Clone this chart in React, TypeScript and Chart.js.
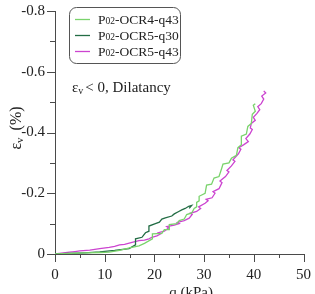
import React, { useEffect, useRef } from "react";
import { Chart, registerables } from "chart.js";

Chart.register(...registerables);

// Deviatoric stress q (kPa) and volumetric strain εv (%) for each test
const qOcr4q43 = [0, 3, 6, 9, 10.9, 13, 15, 16.9, 18, 19.6, 19.6, 21.5, 22, 23, 23, 24.5, 25, 26, 26.5, 27.5, 28, 28.5, 28.5, 29, 29, 30.2, 30.5, 31.5, 32, 33, 33.5, 33.8, 35, 35.5, 36.5, 36.8, 37.5, 37.5, 38.5, 38.8, 39.5, 39.7, 40.3, 39.9, 40.3];
const evOcr4q43 = [0, -0.002, -0.004, -0.005, -0.006, -0.012, -0.02, -0.027, -0.035, -0.05, -0.066, -0.068, -0.08, -0.08, -0.097, -0.1, -0.11, -0.115, -0.13, -0.135, -0.15, -0.155, -0.17, -0.175, -0.19, -0.2, -0.227, -0.23, -0.25, -0.255, -0.28, -0.296, -0.3, -0.315, -0.325, -0.35, -0.36, -0.388, -0.395, -0.42, -0.43, -0.46, -0.47, -0.49, -0.495];

const qOcr5q30 = [0, 3, 6, 9, 12, 14.9, 16.2, 16.2, 17.5, 18.2, 18.9, 18.9, 20.2, 21, 21.5, 22.2, 23.5, 24, 24.9, 25.5, 26.2, 26.9, 27.5, 27];
const evOcr5q30 = [0, -0.002, -0.004, -0.007, -0.012, -0.018, -0.03, -0.05, -0.055, -0.07, -0.075, -0.092, -0.1, -0.105, -0.115, -0.119, -0.125, -0.132, -0.14, -0.145, -0.15, -0.157, -0.16, -0.15];

const qOcr5q43 = [0, 2.9, 4, 5, 7, 9, 10.9, 12, 13, 14, 15.5, 16.9, 18, 18.9, 19.5, 20.5, 21.2, 20.8, 22, 22.9, 22.5, 24, 25, 24.6, 26, 27, 27.6, 27.2, 28.5, 29.3, 28.9, 30.2, 30.8, 30.4, 31.6, 32.2, 31.8, 33, 33.6, 33.2, 34.3, 35, 34.6, 35.5, 36.2, 35.8, 36.9, 37.4, 37, 38, 38.9, 38.4, 39.2, 39.7, 39.3, 39.5, 40.3, 39.9, 40.6, 41.2, 40.8, 41.5, 42, 41.6, 42.4, 42];
const evOcr5q43 = [0, -0.006, -0.008, -0.01, -0.013, -0.018, -0.022, -0.025, -0.03, -0.032, -0.038, -0.044, -0.046, -0.05, -0.055, -0.06, -0.066, -0.07, -0.075, -0.086, -0.09, -0.095, -0.1, -0.104, -0.11, -0.118, -0.13, -0.134, -0.14, -0.15, -0.155, -0.167, -0.175, -0.18, -0.185, -0.2, -0.205, -0.215, -0.235, -0.24, -0.255, -0.27, -0.275, -0.29, -0.305, -0.31, -0.33, -0.345, -0.35, -0.36, -0.37, -0.38, -0.395, -0.41, -0.415, -0.43, -0.44, -0.45, -0.462, -0.475, -0.485, -0.495, -0.51, -0.52, -0.53, -0.537];

const seriesNames = ["-OCR4-q43", "-OCR5-q30", "-OCR5-q43"];
const seriesColors = ["#7ad36c", "#236d45", "#cc44d0"];

const xTickValues = [0, 10, 20, 30, 40, 50];
const yTickValues = [-0.8, -0.6, -0.4, -0.2, 0];

const SERIF = "'Liberation Serif', 'DejaVu Serif', serif";
const AXIS_COLOR = "#4a4a4a";
const TEXT_COLOR = "#222";

const toPoints = (xs: number[], ys: number[]) => xs.map((x, i) => ({ x, y: ys[i] }));

// Tick marks, legend box, annotation and axis titles
const decorations = {
  id: "decorations",
  afterDraw(chart: any) {
    const { ctx, chartArea, scales } = chart;
    const xs = scales.x;
    const ys = scales.y;
    ctx.save();
    ctx.strokeStyle = AXIS_COLOR;
    ctx.lineWidth = 1;
    // x ticks every 5, long at labelled values
    for (let v = 0; v <= 50; v += 5) {
      const px = Math.round(xs.getPixelForValue(v)) + 0.5;
      const len = xTickValues.includes(v) ? 8 : 4;
      ctx.beginPath();
      ctx.moveTo(px, chartArea.bottom);
      ctx.lineTo(px, chartArea.bottom + len);
      ctx.stroke();
    }
    // y ticks every 0.1
    for (let k = -8; k <= 0; k++) {
      const v = k / 10;
      const py = Math.round(ys.getPixelForValue(v)) + 0.5;
      const len = k % 2 === 0 ? 8 : 5;
      ctx.beginPath();
      ctx.moveTo(chartArea.left, py);
      ctx.lineTo(chartArea.left - len, py);
      ctx.stroke();
    }

    // legend
    const bx = 69.5, by = 7.5, bw = 111, bh = 56, r = 7;
    ctx.beginPath();
    ctx.moveTo(bx + r, by);
    ctx.arcTo(bx + bw, by, bx + bw, by + bh, r);
    ctx.arcTo(bx + bw, by + bh, bx, by + bh, r);
    ctx.arcTo(bx, by + bh, bx, by, r);
    ctx.arcTo(bx, by, bx + bw, by, r);
    ctx.closePath();
    ctx.fillStyle = "#fff";
    ctx.fill();
    ctx.strokeStyle = "#555";
    ctx.stroke();

    const rows = [19, 35, 51];
    ctx.textAlign = "left";
    rows.forEach((ry, i) => {
      ctx.strokeStyle = seriesColors[i];
      ctx.lineWidth = 1.3;
      ctx.beginPath();
      ctx.moveTo(75, ry + 0.5);
      ctx.lineTo(90, ry + 0.5);
      ctx.stroke();
      ctx.fillStyle = TEXT_COLOR;
      let tx = 98;
      ctx.textBaseline = "alphabetic";
      const base = ry + 5;
      ctx.font = `13.5px ${SERIF}`;
      ctx.fillText("P", tx, base);
      tx += ctx.measureText("P").width;
      ctx.font = `9.5px ${SERIF}`;
      ctx.fillText("02", tx, base);
      tx += ctx.measureText("02").width;
      ctx.font = `13.5px ${SERIF}`;
      ctx.fillText(seriesNames[i], tx, base);
    });

    // annotation
    ctx.fillStyle = TEXT_COLOR;
    ctx.textBaseline = "alphabetic";
    let ax = 72;
    const ab = 92;
    ctx.font = `15px ${SERIF}`;
    ctx.fillText("ε", ax, ab);
    ax += ctx.measureText("ε").width;
    ctx.font = `10px ${SERIF}`;
    ctx.fillText("v", ax, ab + 2);
    ax += ctx.measureText("v").width + 2;
    ctx.font = `15px ${SERIF}`;
    ctx.fillText("< 0, Dilatancy", ax, ab);

    // x title
    ctx.font = `15px ${SERIF}`;
    ctx.textAlign = "center";
    ctx.fillText("q (kPa)", 191, 297);

    // y title (rotated)
    ctx.translate(21, 128);
    ctx.rotate(-Math.PI / 2);
    ctx.textAlign = "left";
    ctx.font = `16px ${SERIF}`;
    const w1 = ctx.measureText("ε").width;
    ctx.font = `11px ${SERIF}`;
    const w2 = ctx.measureText("v").width;
    ctx.font = `16px ${SERIF}`;
    const w3 = ctx.measureText(" (%)").width;
    let ty = -(w1 + w2 + 3 + w3) / 2;
    ctx.fillText("ε", ty, 0);
    ty += w1;
    ctx.font = `11px ${SERIF}`;
    ctx.fillText("v", ty, 2);
    ty += w2 + 3;
    ctx.font = `16px ${SERIF}`;
    ctx.fillText(" (%)", ty, 0);
    ctx.restore();
  },
};

export default function App() {
  const canvasRef = useRef<HTMLCanvasElement>(null);

  useEffect(() => {
    if (!canvasRef.current) return;
    const lineStyle = (i: number) => ({
      borderColor: seriesColors[i],
      backgroundColor: seriesColors[i],
      borderWidth: 1.3,
      pointRadius: 0,
      showLine: true,
      tension: 0,
      fill: false,
    });
    const chart = new Chart(canvasRef.current, {
      type: "scatter",
      data: {
        datasets: [
          { label: "P02" + seriesNames[0], data: toPoints(qOcr4q43, evOcr4q43), ...lineStyle(0) },
          { label: "P02" + seriesNames[1], data: toPoints(qOcr5q30, evOcr5q30), ...lineStyle(1) },
          { label: "P02" + seriesNames[2], data: toPoints(qOcr5q43, evOcr5q43), ...lineStyle(2) },
        ],
      },
      options: {
        animation: false,
        responsive: true,
        maintainAspectRatio: false,
        layout: { padding: { top: 6, right: 11, left: 0, bottom: 0 } },
        plugins: { legend: { display: false }, tooltip: { enabled: false } },
        scales: {
          x: {
            type: "linear",
            min: 0,
            max: 50,
            afterFit: (s: any) => { s.height = 40; },
            grid: { display: false },
            border: { display: true, color: AXIS_COLOR, width: 1 },
            ticks: {
              stepSize: 5,
              padding: 4,
              maxRotation: 0,
              autoSkip: false,
              color: TEXT_COLOR,
              font: { family: SERIF, size: 15 },
              callback: (v: any) => (xTickValues.includes(Number(v)) ? String(v) : ""),
            },
          },
          y: {
            type: "linear",
            min: -0.8,
            max: 0,
            reverse: true,
            afterFit: (s: any) => { s.width = 55; },
            grid: { display: false },
            border: { display: true, color: AXIS_COLOR, width: 1 },
            ticks: {
              stepSize: 0.1,
              padding: 2,
              autoSkip: false,
              color: TEXT_COLOR,
              font: { family: SERIF, size: 15 },
              callback: (v: any) => {
                const k = Math.round(Number(v) * 10);
                if (!yTickValues.includes(k / 10)) return "";
                return k === 0 ? "0" : (k / 10).toFixed(1);
              },
            },
          },
        },
      },
      plugins: [decorations],
    });
    return () => chart.destroy();
  }, []);

  return (
    <div style={{ position: "fixed", left: 0, top: 0, width: 315, height: 294, background: "#fff" }}>
      <canvas ref={canvasRef} />
    </div>
  );
}
